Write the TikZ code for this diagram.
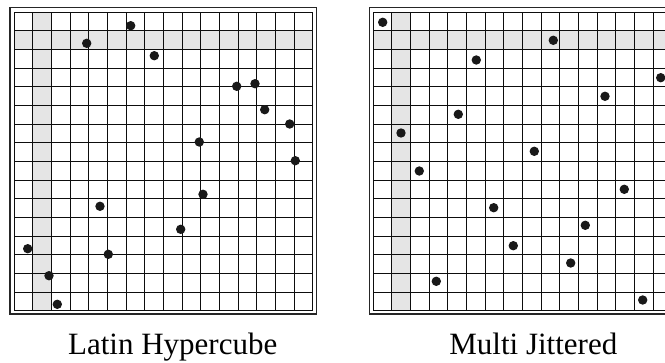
\documentclass[tikz,border=0pt]{standalone}
\usepackage{fontspec}
\setmainfont{Liberation Serif}
\begin{document}
\begin{tikzpicture}[x=1pt,y=-1pt,
  gridline/.style={line width=1pt,black!95},
  frameline/.style={line width=1.3pt,black!85},
  shadecell/.style={fill=black!10},
  sdot/.style={fill=black!90},
  lbl/.style={font=\fontsize{31}{36}\selectfont, anchor=base, inner sep=0pt}]
\useasboundingbox (0,0) rectangle (665,362);
\clip (0,0) rectangle (665,362);
\def\cs{18.667}
% ---------- left grid (Latin Hypercube) ----------
\fill[shadecell] ({14+\cs},12) rectangle ({14+2*\cs},{12+16*\cs});
\fill[shadecell] (14,{12+\cs}) rectangle ({14+16*\cs},{12+2*\cs});
\foreach \i in {0,...,16}{
  \draw[gridline] ({14+\i*\cs},12) -- ({14+\i*\cs},{12+16*\cs});
  \draw[gridline] (14,{12+\i*\cs}) -- ({14+16*\cs},{12+\i*\cs});
}
\draw[frameline] (10,7.5) rectangle (316.5,314);
\foreach \px/\py in {130.7/25.7, 86.7/43.3, 154.3/55.7, 236.7/86.3, 255/83.7,
  264.7/109.7, 289.7/124, 199.3/142, 295.3/160.7, 100/206.3, 203/194.3,
  180.7/229.3, 27.7/248.7, 108.3/254.3, 49/275.7, 57.3/304.3}
  \fill[sdot] (\px,\py) circle (4.7);
% ---------- right grid (Multi Jittered) ----------
\fill[shadecell] ({373.3+\cs},12) rectangle ({373.3+2*\cs},{12+16*\cs});
\fill[shadecell] (373.3,{12+\cs}) rectangle ({373.3+16*\cs},{12+2*\cs});
\foreach \i in {0,...,16}{
  \draw[gridline] ({373.3+\i*\cs},12) -- ({373.3+\i*\cs},{12+16*\cs});
  \draw[gridline] (373.3,{12+\i*\cs}) -- ({373.3+16*\cs},{12+\i*\cs});
}
\draw[frameline] (369.3,7.5) rectangle (676,314);
\foreach \px/\py in {382.7/22.3, 553.3/40.3, 476.3/60, 660.7/77.7, 605/96.3,
  458.3/114.3, 401/133, 534.3/151.3, 419.3/171, 624.3/189.3, 493.7/207.7,
  585.3/225.3, 513.3/245.7, 570.7/263, 436.3/281.3, 642.7/300}
  \fill[sdot] (\px,\py) circle (4.7);
% ---------- labels ----------
\node[lbl] (lhs) at (172.7,354.3) {Latin Hypercube};
\node[lbl] (mj) at (533.3,354.3) {Multi Jittered};
\end{tikzpicture}
\end{document}
